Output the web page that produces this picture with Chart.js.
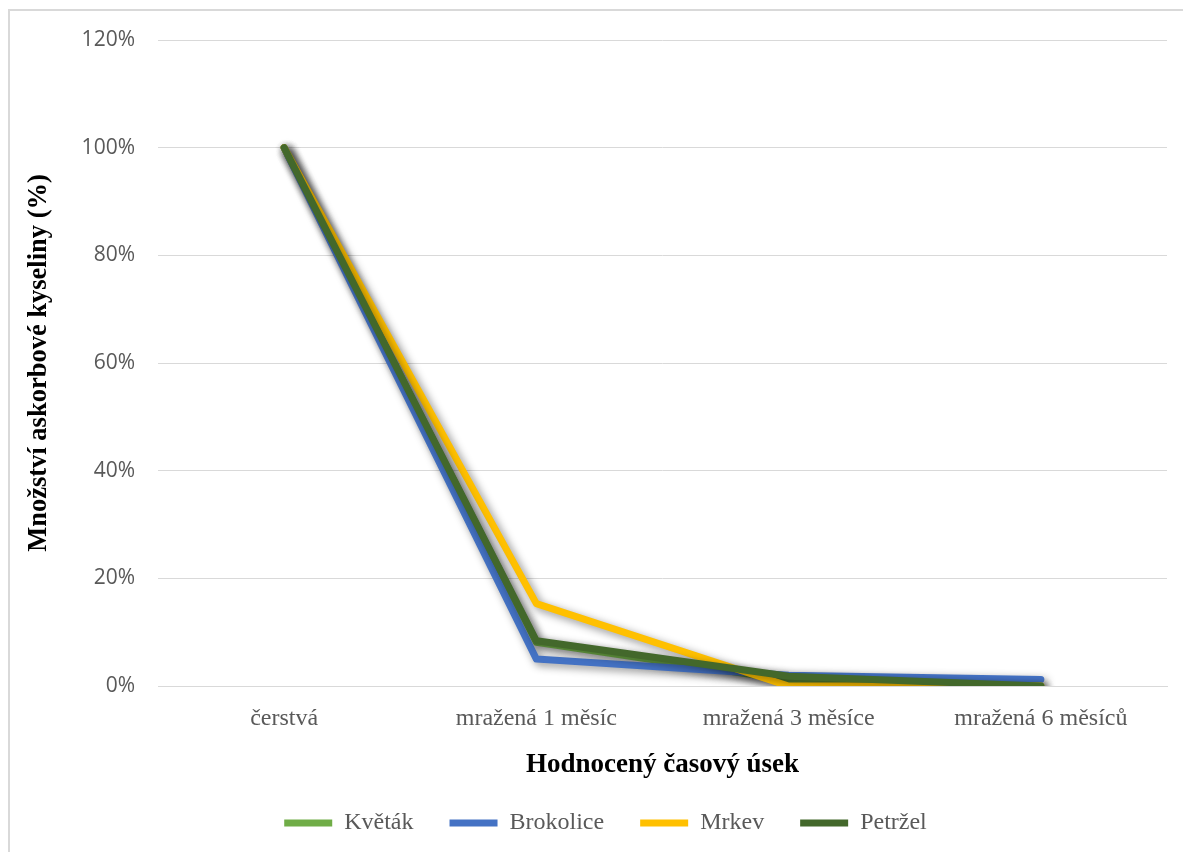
<!DOCTYPE html>
<html lang="cs">
<head>
<meta charset="utf-8">
<title>Množství askorbové kyseliny</title>
<script src="https://cdn.jsdelivr.net/npm/chart.js@4.4.1/dist/chart.umd.min.js"></script>
<style>
  html, body { margin: 0; padding: 0; background: #ffffff; overflow: hidden; }
  #wrap { position: relative; width: 1183px; height: 852px; }
  #frame { position: absolute; left: 8px; top: 9px; width: 1200px; height: 900px;
           border: 2px solid #d9d9d9; box-sizing: border-box; pointer-events: none; }
  canvas { position: absolute; left: 0; top: 0; }
</style>
</head>
<body>
<div id="wrap">
  <canvas id="chart" width="1183" height="852"></canvas>
  <div id="frame"></div>
</div>
<script>
// Time periods on the x axis
const categories = ['čerstvá', 'mražená 1 měsíc', 'mražená 3 měsíce', 'mražená 6 měsíců'];

// Remaining ascorbic acid, percent of the fresh value
const kvetak    = [100, 8.1, 1.1, 0];
const brokolice = [100, 5.0, 2.0, 1.2];
const mrkev     = [100, 15.3, 0, 0];
const petrzel   = [100, 8.4, 1.8, 0];

const yTicks = [0, 20, 40, 60, 80, 100, 120];

const serif = "'Liberation Serif', 'Times New Roman', serif";
const grey = '#595959';

// Soft drop shadow under the series lines
const lineShadow = {
  id: 'lineShadow',
  beforeDatasetsDraw(chart) {
    const ctx = chart.ctx;
    ctx.save();
    ctx.shadowColor = 'rgba(0,0,0,0.45)';
    ctx.shadowBlur = 8;
    ctx.shadowOffsetX = 3;
    ctx.shadowOffsetY = 3;
  },
  afterDatasetsDraw(chart) {
    chart.ctx.restore();
  }
};

// Nudge the legend row a little to the right of the canvas centre
const legendNudge = {
  id: 'legendNudge',
  afterLayout(chart) {
    if (chart.legend) {
      chart.legend.left += 12;
      chart.legend.right += 12;
    }
  }
};

function series(label, data, color, order) {
  return {
    label, data, order,
    borderColor: color,
    backgroundColor: color,
    borderWidth: 7,
    borderCapStyle: 'round',
    borderJoinStyle: 'round',
    pointRadius: 0,
    pointHoverRadius: 0,
    tension: 0,
    fill: false
  };
}

new Chart(document.getElementById('chart'), {
  type: 'line',
  data: {
    labels: categories,
    datasets: [
      series('Květák', kvetak, '#70AD47', 4),
      series('Brokolice', brokolice, '#4472C4', 3),
      series('Mrkev', mrkev, '#FFC000', 2),
      series('Petržel', petrzel, '#43682B', 1)
    ]
  },
  plugins: [lineShadow, legendNudge],
  options: {
    responsive: false,
    animation: false,
    devicePixelRatio: 1,
    layout: { padding: { left: 20, right: 16, top: 40, bottom: 7 } },
    plugins: {
      tooltip: { enabled: false },
      legend: {
        position: 'bottom',
        labels: {
          usePointStyle: true,
          pointStyle: 'line',
          pointStyleWidth: 48,
          boxHeight: 20,
          padding: 36,
          color: grey,
          font: { family: serif, size: 24 },
          sort: (a, b) => a.datasetIndex - b.datasetIndex
        }
      }
    },
    scales: {
      x: {
        offset: true,
        grid: { display: false, drawTicks: false },
        border: { display: true, color: '#d9d9d9', width: 1 },
        ticks: { color: grey, padding: 18, font: { family: serif, size: 24 }, maxRotation: 0 },
        title: {
          display: true,
          text: 'Hodnocený časový úsek',
          color: '#000000',
          font: { family: serif, size: 27, weight: 'bold' },
          padding: { top: 0, bottom: -6 }
        },
        afterFit(scale) { scale.height = 89; }
      },
      y: {
        min: 0,
        max: 120,
        afterBuildTicks(scale) { scale.ticks = yTicks.map(v => ({ value: v })); },
        grid: { color: '#d9d9d9', lineWidth: 1, drawTicks: false },
        border: { display: false },
        ticks: {
          color: grey,
          padding: 23,
          font: { family: "'Open Sans', sans-serif", size: 21 },
          callback: v => v + '%'
        },
        title: {
          display: true,
          text: 'Množství askorbové kyseliny (%)',
          color: '#000000',
          font: { family: serif, size: 26.5, weight: 'bold' },
          padding: { top: 3, bottom: 0 }
        },
        afterFit(scale) { scale.width = 138; }
      }
    }
  }
});
</script>
</body>
</html>
